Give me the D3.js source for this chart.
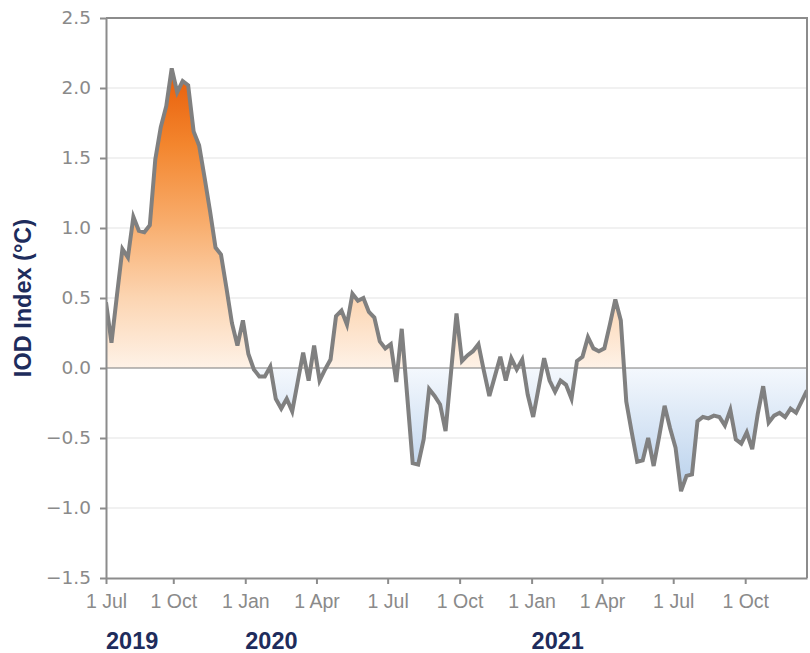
<!DOCTYPE html>
<html>
<head>
<meta charset="utf-8">
<script src="https://cdn.jsdelivr.net/npm/d3@7"></script>
<style>
  body { margin: 0; background: #ffffff; }
  svg { display: block; }
</style>
</head>
<body>
<svg id="chart" width="810" height="653"></svg>
<script>
// Weekly Indian Ocean Dipole index (°C), one value per week
const firstWeek = "2019-07-07";
const iodValues = [
  0.47, 0.18, 0.52, 0.85, 0.79, 1.08, 0.98, 0.97, 1.02, 1.49,
  1.72, 1.87, 2.14, 1.97, 2.05, 2.02, 1.69, 1.59, 1.36, 1.12,
  0.86, 0.81, 0.57, 0.32, 0.16, 0.34, 0.10, -0.01, -0.06, -0.06,
  0.01, -0.22, -0.29, -0.22, -0.31, -0.10, 0.11, -0.09, 0.16, -0.09,
  -0.01, 0.06, 0.37, 0.41, 0.31, 0.53, 0.48, 0.50, 0.40, 0.36,
  0.19, 0.14, 0.17, -0.10, 0.28, -0.20, -0.68, -0.69, -0.51, -0.15,
  -0.20, -0.26, -0.45, -0.03, 0.39, 0.05, 0.09, 0.12, 0.17, -0.02,
  -0.20, -0.06, 0.08, -0.09, 0.07, -0.01, 0.06, -0.19, -0.35, -0.14,
  0.07, -0.09, -0.17, -0.09, -0.12, -0.22, 0.05, 0.08, 0.22, 0.14,
  0.12, 0.14, 0.31, 0.49, 0.34, -0.24, -0.46, -0.67, -0.66, -0.50,
  -0.70, -0.49, -0.27, -0.43, -0.57, -0.88, -0.77, -0.76, -0.38, -0.35,
  -0.36, -0.34, -0.35, -0.41, -0.30, -0.51, -0.54, -0.46, -0.58, -0.33,
  -0.13, -0.39, -0.34, -0.32, -0.35, -0.29, -0.32, -0.24, -0.16
];

const yTickValues = [-1.5, -1.0, -0.5, 0.0, 0.5, 1.0, 1.5, 2.0, 2.5];
const xTickDates = ["2019-07-01", "2019-10-01", "2020-01-01", "2020-04-01", "2020-07-01",
                    "2020-10-01", "2021-01-01", "2021-04-01", "2021-07-01", "2021-10-01"];
const xTickLabels = ["1 Jul", "1 Oct", "1 Jan", "1 Apr", "1 Jul",
                     "1 Oct", "1 Jan", "1 Apr", "1 Jul", "1 Oct"];
const yearDates = ["2019-07-01", "2020-01-01", "2021-01-01"];
const yearLabels = ["2019", "2020", "2021"];
const yLabel = "IOD Index (°C)";

const parse = d3.timeParse("%Y-%m-%d");
const start = parse(firstWeek);
const series = iodValues.map((v, i) => ({ date: d3.timeDay.offset(start, 7 * i), value: v }));

const margin = { left: 106, right: 3, top: 18, bottom: 75 };
const W = 810, H = 653;
const svg = d3.select("#chart");

const x = d3.scaleTime()
  .domain([series[0].date, series[series.length - 1].date])
  .range([margin.left, W - margin.right])
  .clamp(true);
const y = d3.scaleLinear()
  .domain([-1.5, 2.5])
  .range([H - margin.bottom, margin.top]);

const navy = "#1e2c5c";
const grey = "#8a8a8a";

// Colour ramp: warm above zero, cool below
const defs = svg.append("defs");
const vMax = d3.max(iodValues), vMin = d3.min(iodValues);
const grad = defs.append("linearGradient")
  .attr("id", "iodFill")
  .attr("gradientUnits", "userSpaceOnUse")
  .attr("x1", 0).attr("x2", 0)
  .attr("y1", y(vMax)).attr("y2", y(vMin));
const off = v => (vMax - v) / (vMax - vMin);
[
  [vMax, "#e85c08"], [1.6, "#f3852d"], [1.05, "#f8ac6b"], [0.5, "#fcd5b2"],
  [0, "#fef2e7"], [0, "#f4f8fd"], [vMin, "#b9d1ec"]
].forEach(([v, c]) => grad.append("stop").attr("offset", off(v)).attr("stop-color", c));

defs.append("clipPath").attr("id", "plotClip")
  .append("rect")
  .attr("x", margin.left).attr("y", margin.top)
  .attr("width", W - margin.right - margin.left)
  .attr("height", H - margin.bottom - margin.top);

// Horizontal grid
svg.append("g")
  .selectAll("line")
  .data(yTickValues.filter(v => v !== 0 && v !== -1.5 && v !== 2.5))
  .join("line")
  .attr("x1", margin.left).attr("x2", W - margin.right)
  .attr("y1", d => y(d)).attr("y2", d => y(d))
  .attr("stroke", "#f1f1f1").attr("stroke-width", 2);

const plot = svg.append("g").attr("clip-path", "url(#plotClip)");

const area = d3.area()
  .x(d => x(d.date))
  .y0(y(0))
  .y1(d => y(d.value));
plot.append("path")
  .datum(series)
  .attr("d", area)
  .attr("fill", "url(#iodFill)");

// Zero line
plot.append("line")
  .attr("x1", margin.left).attr("x2", W - margin.right)
  .attr("y1", y(0)).attr("y2", y(0))
  .attr("stroke", "#7a7a7a").attr("stroke-width", 1);

const line = d3.line()
  .x(d => x(d.date))
  .y(d => y(d.value));
plot.append("path")
  .datum(series)
  .attr("d", line)
  .attr("fill", "none")
  .attr("stroke", "#808080")
  .attr("stroke-width", 4)
  .attr("stroke-linejoin", "miter");

// Frame (top and right)
svg.append("path")
  .attr("d", `M${margin.left},${margin.top}H${W - margin.right}V${H - margin.bottom}`)
  .attr("fill", "none")
  .attr("stroke", "#8c8c8c")
  .attr("stroke-width", 2);

// Left axis
const yAxis = svg.append("g")
  .attr("transform", `translate(${margin.left},0)`)
  .call(d3.axisLeft(y).tickValues(yTickValues).tickFormat(d3.format(".1f"))
    .tickSize(6).tickSizeOuter(0).tickPadding(9));
yAxis.selectAll("text")
  .attr("fill", grey)
  .style("font-family", "'DejaVu Sans', sans-serif")
  .style("font-size", "18.5px");

// Bottom axis
const xAxis = svg.append("g")
  .attr("transform", `translate(0,${H - margin.bottom})`)
  .call(d3.axisBottom(x).tickValues(xTickDates.map(parse))
    .tickFormat((d, i) => xTickLabels[i])
    .tickSize(6).tickSizeOuter(0).tickPadding(10));
xAxis.selectAll("text")
  .attr("fill", grey)
  .style("font-family", "'Liberation Sans', Arial, sans-serif")
  .style("font-size", "19.5px");

[yAxis, xAxis].forEach(g => {
  g.select(".domain").attr("stroke", "#8c8c8c").attr("stroke-width", 2);
  g.selectAll(".tick line").attr("stroke", "#8c8c8c").attr("stroke-width", 2);
});

// Year labels under the axis
svg.append("g")
  .selectAll("text")
  .data(yearLabels)
  .join("text")
  .attr("x", (d, i) => x(parse(yearDates[i])))
  .attr("y", 649)
  .attr("fill", navy)
  .style("font-family", "'Liberation Sans', Arial, sans-serif")
  .style("font-weight", "bold")
  .style("font-size", "23.5px")
  .text(d => d);

// Y axis title
svg.append("text")
  .attr("transform", `translate(31,${(y(2.5) + y(-1.5)) / 2}) rotate(-90)`)
  .attr("text-anchor", "middle")
  .attr("fill", navy)
  .style("font-family", "'Liberation Sans', Arial, sans-serif")
  .style("font-weight", "bold")
  .style("font-size", "23.5px")
  .text(yLabel);
</script>
</body>
</html>
